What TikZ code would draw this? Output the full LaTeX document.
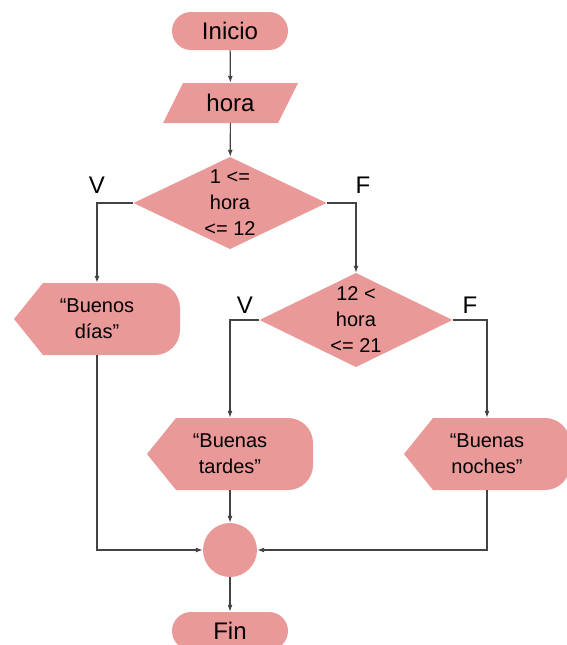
\documentclass[tikz,border=0pt]{standalone}
\usepackage{fontspec}
\setmainfont{Liberation Sans}
\usepackage{tikz}
\usetikzlibrary{arrows.meta, shapes}
\definecolor{rosa}{HTML}{EA9999}
\definecolor{linea}{HTML}{434343}
\tikzset{>={Latex[length=7pt,width=5pt]}}
\tikzset{
  every node/.style={inner sep=0pt, align=center, text=black,
    font=\fontsize{20}{26}\selectfont},
  term/.style={rectangle, rounded corners=19pt, fill=rosa,
    minimum width=116pt, minimum height=38pt,
    font=\fontsize{24}{28}\selectfont},
  datos/.style={minimum width=135pt, minimum height=40pt,
    font=\fontsize{24}{28}\selectfont,
    path picture={\fill[rosa] ([xshift=20pt]path picture bounding box.north west)
      -- (path picture bounding box.north east)
      -- ([xshift=-20pt]path picture bounding box.south east)
      -- (path picture bounding box.south west) -- cycle;}},
  decision/.style={minimum width=193pt, minimum height=#1,
    path picture={\fill[rosa] (path picture bounding box.north)
      -- (path picture bounding box.east)
      -- (path picture bounding box.south)
      -- (path picture bounding box.west) -- cycle;}},
  salida/.style={minimum width=166pt, minimum height=72pt,
    path picture={\fill[rosa] (path picture bounding box.west)
      -- ([xshift=29pt]path picture bounding box.north west)
      -- ([xshift=-25pt]path picture bounding box.north east)
      arc[start angle=90, end angle=0, radius=25pt]
      -- ([yshift=25pt]path picture bounding box.south east)
      arc[start angle=0, end angle=-90, radius=25pt]
      -- ([xshift=29pt]path picture bounding box.south west) -- cycle;}},
  conector/.style={circle, fill=rosa, minimum size=54pt},
  rama/.style={anchor=base, font=\fontsize{24}{28}\selectfont},
  flujo/.style={->, draw=linea, line width=1.2pt}
}

\begin{document}
\begin{tikzpicture}[x=1pt, y=1pt]
\useasboundingbox (0,0) rectangle (567,-645);

\node[term] (ini) at (230,-31) {Inicio};
\node[datos] (hora) at (230.5,-103) {hora};
\node[decision=92pt] (dec1) at (230,-203) {1 <=\\hora\\<= 12};
\node[salida] (dia) at (97,-319) {“Buenos\\días”};
\node[decision=94pt] (dec2) at (356,-320) {12 <\\hora\\<= 21};
\node[salida] (tar) at (230,-454) {“Buenas\\tardes”};
\node[salida] (noc) at (487,-454) {“Buenas\\noches”};
\node[conector] (cir) at (230,-550) {};
\node[term] (fin) at (230,-631) {Fin};

% etiquetas V / F
\node[rama] (v1) at (97,-193) {V};
\node[rama] (f1) at (363,-193) {F};
\node[rama] (v2) at (245,-313) {V};
\node[rama] (f2) at (470,-313) {F};

\draw[flujo] (ini) -- (hora);
\draw[flujo] (hora) -- (dec1);
\draw[flujo] (dec1.west) -| (dia);
\draw[flujo] (dec1.east) -| (dec2);
\draw[flujo] (dec2.west) -| (tar);
\draw[flujo] (dec2.east) -| (noc);
\draw[flujo] (dia) |- (cir);
\draw[flujo] (tar) -- (cir);
\draw[flujo] (noc) |- (cir);
\draw[flujo] (cir) -- (fin);
\end{tikzpicture}
\end{document}
